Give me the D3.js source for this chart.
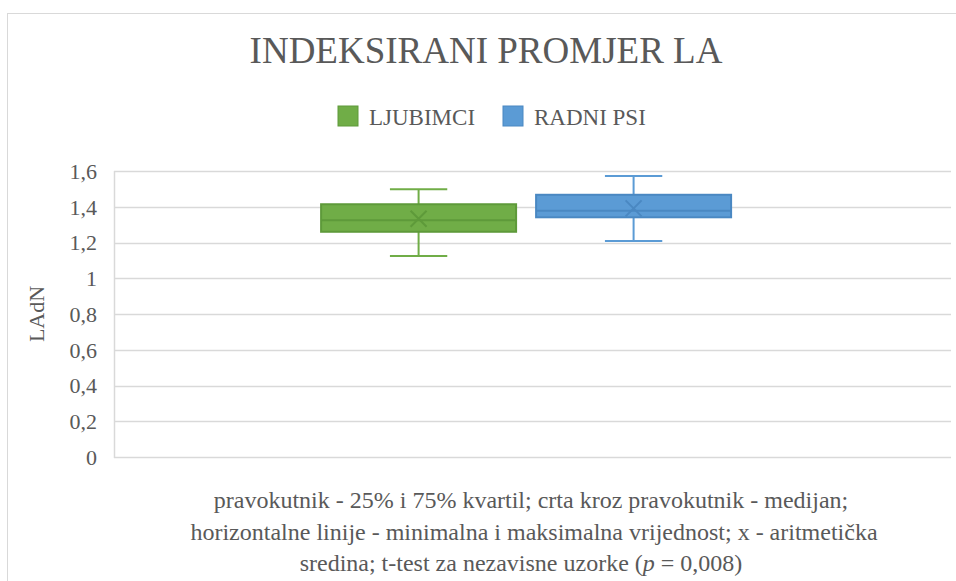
<!DOCTYPE html>
<html>
<head>
<meta charset="utf-8">
<script src="https://cdn.jsdelivr.net/npm/d3@7"></script>
<style>
  html, body { margin: 0; padding: 0; background: #fff; }
  svg { display: block; }
</style>
</head>
<body>
<svg id="chart" width="956" height="581"></svg>
<script>
// Box-plot summary per group (LAdN)
const groups = ["LJUBIMCI", "RADNI PSI"];
const minVals = [1.124, 1.208];
const q1Vals = [1.260, 1.341];
const medianVals = [1.324, 1.378];
const q3Vals = [1.414, 1.467];
const maxVals = [1.498, 1.572];
const meanVals = [1.333, 1.391];
const yTicks = [0, 0.2, 0.4, 0.6, 0.8, 1, 1.2, 1.4, 1.6];
const noteLines = [
  "pravokutnik - 25% i 75% kvartil; crta kroz pravokutnik - medijan;",
  "horizontalne linije - minimalna i maksimalna vrijednost; x - aritmetička",
  "sredina; t-test za nezavisne uzorke (|p| = 0,008)"
];

const fills = ["#70AD47", "#5B9BD5"];
const strokes = ["#5E9A3A", "#4A88C2"];
const FONT = '"Liberation Serif", "Times New Roman", serif';
const TEXT = "#595959";

const svg = d3.select("#chart");
const W = 956, H = 581;
const plot = { left: 114, right: 951, top: 171, bottom: 457 };

const label = (sel, size) => sel
  .style("font-family", FONT).style("font-size", size + "px").style("fill", TEXT);

// chart frame
svg.append("rect")
  .attr("x", 7.5).attr("y", 13.5)
  .attr("width", W + 10).attr("height", H + 10)
  .attr("fill", "none").attr("stroke", "#D9D9D9").attr("stroke-width", 1);

const y = d3.scaleLinear().domain([0, 1.6]).range([plot.bottom, plot.top]);
const x = d3.scaleBand().domain(groups)
  .range([plot.left, plot.right])
  .paddingInner(0.093).paddingOuter(0.993).align(0.485);

// gridlines
svg.append("g").selectAll("line").data(yTicks).join("line")
  .attr("x1", plot.left).attr("x2", plot.right)
  .attr("y1", d => Math.round(y(d)) + 0.5).attr("y2", d => Math.round(y(d)) + 0.5)
  .attr("stroke", "#D9D9D9").attr("stroke-width", 1.5);

// left axis line
svg.append("line")
  .attr("x1", plot.left + 0.5).attr("x2", plot.left + 0.5)
  .attr("y1", plot.top).attr("y2", plot.bottom + 1)
  .attr("stroke", "#D9D9D9").attr("stroke-width", 1.5);

// y axis labels
const fmt = d => String(+d.toFixed(1)).replace(".", ",");
const yAxis = d3.axisLeft(y).tickValues(yTicks).tickFormat(fmt).tickSize(0).tickPadding(17);
const ya = svg.append("g").attr("transform", `translate(${plot.left},0)`).call(yAxis);
ya.select(".domain").remove();
ya.selectAll("text").call(label, 22).attr("dy", "0.34em");

// y axis title
svg.append("text")
  .attr("transform", `translate(44,${(plot.top + plot.bottom) / 2}) rotate(-90)`)
  .attr("text-anchor", "middle")
  .call(label, 22)
  .text("LAdN");

// boxes
const idx = d3.range(groups.length);
const g = svg.append("g");
idx.forEach(i => {
  const x0 = x(groups[i]), bw = x.bandwidth(), cx = x0 + bw / 2;
  const capHalf = bw * 0.147;
  const col = strokes[i];
  // whiskers
  g.append("line").attr("x1", cx).attr("x2", cx)
    .attr("y1", y(maxVals[i])).attr("y2", y(q3Vals[i]))
    .attr("stroke", fills[i]).attr("stroke-width", 2);
  g.append("line").attr("x1", cx).attr("x2", cx)
    .attr("y1", y(q1Vals[i])).attr("y2", y(minVals[i]))
    .attr("stroke", fills[i]).attr("stroke-width", 2);
  [maxVals[i], minVals[i]].forEach(v => {
    g.append("line").attr("x1", cx - capHalf).attr("x2", cx + capHalf)
      .attr("y1", y(v)).attr("y2", y(v))
      .attr("stroke", fills[i]).attr("stroke-width", 2);
  });
  // box
  g.append("rect")
    .attr("x", x0).attr("y", y(q3Vals[i]))
    .attr("width", bw).attr("height", y(q1Vals[i]) - y(q3Vals[i]))
    .attr("fill", fills[i]).attr("stroke", col).attr("stroke-width", 2);
  // median
  g.append("line").attr("x1", x0).attr("x2", x0 + bw)
    .attr("y1", y(medianVals[i])).attr("y2", y(medianVals[i]))
    .attr("stroke", col).attr("stroke-width", 2);
  // mean marker
  const m = 8, my = y(meanVals[i]);
  g.append("path")
    .attr("d", `M${cx - m},${my - m}L${cx + m},${my + m}M${cx - m},${my + m}L${cx + m},${my - m}`)
    .attr("stroke", col).attr("stroke-width", 2).attr("fill", "none");
});

// title
svg.append("text")
  .attr("x", 486).attr("y", 63)
  .attr("text-anchor", "middle")
  .call(label, 37)
  .text("INDEKSIRANI PROMJER LA");

// legend
const legendX = [338, 503];
idx.forEach(i => {
  svg.append("rect")
    .attr("x", legendX[i]).attr("y", 106).attr("width", 20).attr("height", 20)
    .attr("fill", fills[i]).attr("stroke", strokes[i]).attr("stroke-width", 1);
  svg.append("text")
    .attr("x", legendX[i] + 31).attr("y", 125)
    .call(label, 23)
    .text(groups[i]);
});

// footnote
const noteCenters = [531, 534, 521];
const noteBase = [508, 540, 571];
noteLines.forEach((line, i) => {
  const t = svg.append("text")
    .attr("x", noteCenters[i]).attr("y", noteBase[i])
    .attr("text-anchor", "middle")
    .call(label, 24);
  line.split("|").forEach((part, j) => {
    t.append("tspan").style("font-style", j === 1 ? "italic" : null).text(part);
  });
});
</script>
</body>
</html>
